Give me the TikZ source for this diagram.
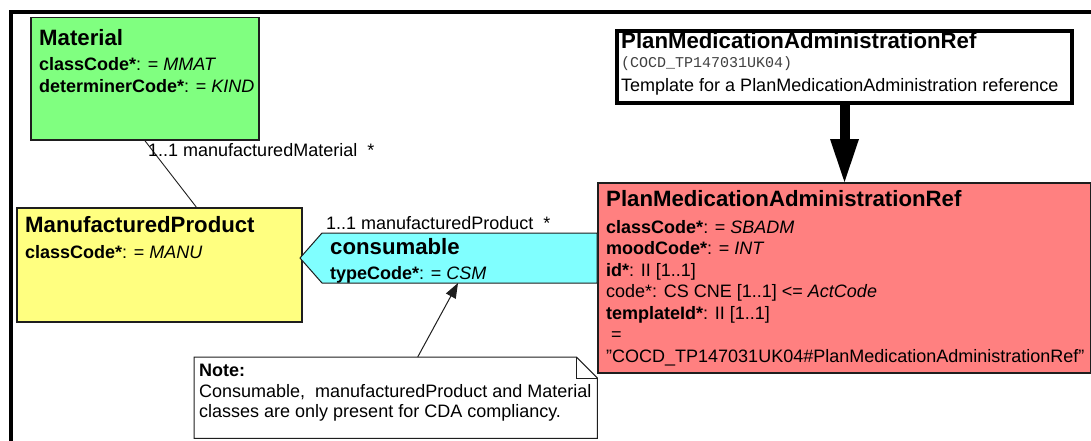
\documentclass[tikz,border=0pt]{standalone}
\usepackage{fontspec}
\setmainfont{Liberation Sans}
\setmonofont{Liberation Mono}
\usetikzlibrary{arrows.meta}

\definecolor{matgreen}{RGB}{128,255,128}
\definecolor{prodyellow}{RGB}{255,255,128}
\definecolor{conscyan}{RGB}{128,255,255}
\definecolor{actred}{RGB}{255,128,128}
\definecolor{boxline}{RGB}{30,30,30}

\tikzset{
  classbox/.style={draw=boxline, line width=1.5pt, anchor=north west, inner sep=0pt},
  boxtext/.style={anchor=north west, inner sep=0pt, align=left, font=\fontsize{18}{21.5}\selectfont},
  assoc/.style={draw=boxline, line width=1pt},
  rolelabel/.style={anchor=base west, inner sep=0pt, font=\fontsize{18}{21.5}\selectfont},
}
\newcommand{\clsname}[1]{{\fontsize{22.2}{24}\selectfont\bfseries #1}}

\begin{document}
\begin{tikzpicture}[x=1pt, y=-1pt]
    \useasboundingbox (0,0) rectangle (1091,441);
    \draw [line width=4pt] (10.5,441) |- (1091,12);          % frame

    % classes
    \node[classbox, fill=matgreen, minimum width=228pt, minimum height=122pt] (material) at (30,17) {};
    \node[boxtext] at (39,29) {\clsname{Material}\\[4pt]%
        \textbf{classCode*}: = \textit{MMAT}\\%
        \textbf{determinerCode*}: = \textit{KIND}};

    \node[classbox, fill=prodyellow, minimum width=285pt, minimum height=114pt] (mprod) at (16,207) {};
    \node[boxtext] at (25,216) {\clsname{ManufacturedProduct}\\[4.5pt]%
        \textbf{classCode*}: = \textit{MANU}};

    \node[classbox, fill=actred, minimum width=493pt, minimum height=190pt] (pmar) at (597,182) {};
    \node[boxtext] at (606,190) {\clsname{PlanMedicationAdministrationRef}\\[5.5pt]%
        \textbf{classCode*}: = \textit{SBADM}\\%
        \textbf{moodCode*}: = \textit{INT}\\%
        \textbf{id*}: II [1..1]\\%
        code*: CS CNE [1..1] <= \textit{ActCode}\\%
        \textbf{templateId*}: II [1..1]\\%
        \hspace{5pt}=\\%
        "COCD\_TP147031UK04\#PlanMedicationAdministrationRef"};

    % template
    \node[classbox, draw=black, line width=4pt, fill=white, minimum width=455pt, minimum height=72pt] (tmpl) at (615,29) {};
    \node[boxtext] at (621,32) {\clsname{PlanMedicationAdministrationRef}\\[-2.5pt]%
        {\fontsize{15}{16}\selectfont\ttfamily\color{black!75}(COCD\_TP147031UK04)}\\[2.5pt]%
        Template for a PlanMedicationAdministration reference};
    \draw [line width=10pt, -{Triangle[length=43pt, width=29pt, line width=0pt]}] (tmpl.south) -- (tmpl.south |- pmar.north);

    % consumable
    \draw [assoc, fill=conscyan] (300,258) -- (322,233) -- (597,233) -- (597,283) -- (322,283) -- cycle;
    \coordinate (cons) at (458,283);
    \node[boxtext] at (330,238) {\clsname{consumable}\\[3.5pt]%
        \textbf{typeCode*}: = \textit{CSM}};
    \node[rolelabel] (prodrole) at (326,229) {1..1 manufacturedProduct\ \ *};

    % material link
    \draw [assoc, line width=0.9pt] (material.south) -- ([xshift=37pt]mprod.north);
    \node[rolelabel] (matrole) at (148,156) {1..1 manufacturedMaterial\ \ *};

    % note
    \node[anchor=north west, inner sep=0pt, minimum width=403pt, minimum height=81pt] (note) at (194,357) {};
    \draw [assoc, fill=white] (note.north west) -- ([xshift=-21pt]note.north east) -- ([yshift=-21pt]note.north east)
        -- (note.south east) -- (note.south west) -- cycle;
    \draw [assoc] ([xshift=-21pt]note.north east) -- ++(0,21) -- ([yshift=-21pt]note.north east);
    \node[boxtext, font=\fontsize{18}{20.5}\selectfont] at (199,364) {\textbf{Note:}\\%
        Consumable,\ \ manufacturedProduct and Material\\%
        classes are only present for CDA compliancy.};
    \draw [assoc, -{Triangle[length=15pt, width=11pt]}] ([xshift=22pt]note.north) -- (cons);
\end{tikzpicture}
\end{document}
